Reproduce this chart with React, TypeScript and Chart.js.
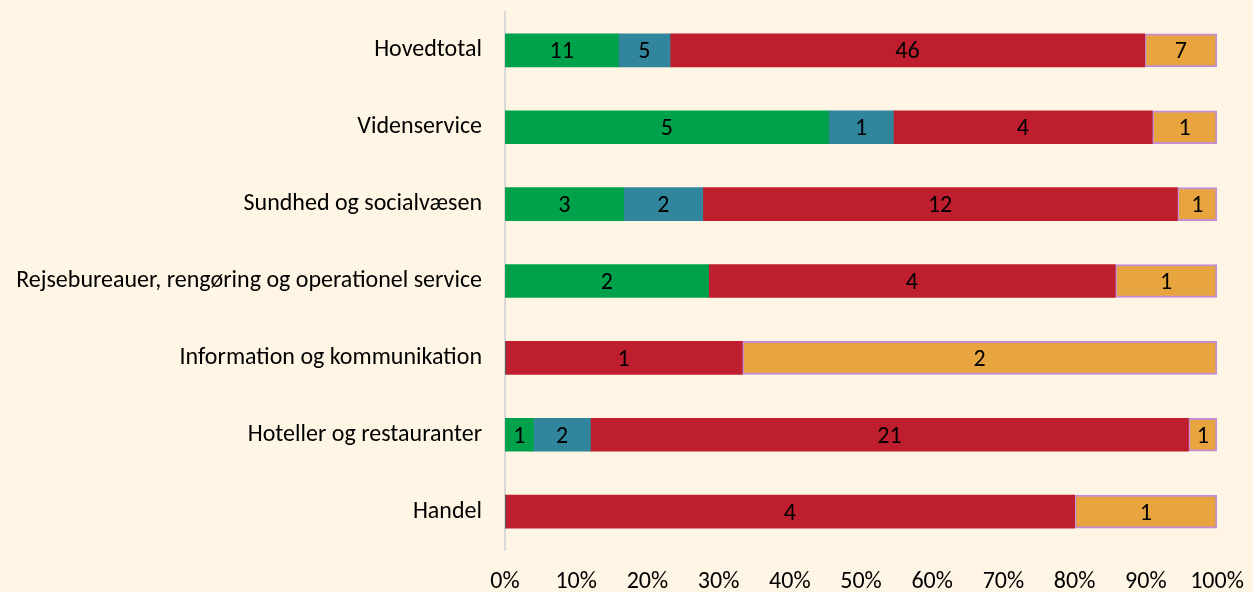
import React, { useEffect, useRef } from "react";
import { Chart, registerables } from "chart.js";

Chart.register(...registerables);

const categories = [
  "Hovedtotal",
  "Videnservice",
  "Sundhed og socialvæsen",
  "Rejsebureauer, rengøring og operationel service",
  "Information og kommunikation",
  "Hoteller og restauranter",
  "Handel",
];

const seriesNames = ["Serie 1", "Serie 2", "Serie 3", "Serie 4"];
const greenCounts = [11, 5, 3, 2, 0, 1, 0];
const blueCounts = [5, 1, 2, 0, 0, 2, 0];
const redCounts = [46, 4, 12, 4, 1, 21, 4];
const orangeCounts = [7, 1, 1, 1, 2, 1, 1];

const xTicks = [0, 10, 20, 30, 40, 50, 60, 70, 80, 90, 100];

const FONT = "Carlito, Calibri, Lato, 'Open Sans', sans-serif";

export default function App() {
  const ref = useRef<HTMLCanvasElement | null>(null);

  useEffect(() => {
    document.body.style.margin = "0";
    document.body.style.background = "#FEF5E4";
    const counts = [greenCounts, blueCounts, redCounts, orangeCounts];
    const totals = categories.map((_, i) => counts.reduce((s, c) => s + c[i], 0));
    const pct = (arr: number[]) => arr.map((v, i) => (v / totals[i]) * 100);
    const colors = ["#00A14B", "#31859C", "#BE1E2D", "#E8A53F"];

    const labelPlugin = {
      id: "segLabels",
      afterDatasetsDraw(chart: any) {
        const ctx = chart.ctx;
        ctx.save();
        ctx.font = `24px ${FONT}`;
        ctx.fillStyle = "#000000";
        ctx.textAlign = "center";
        ctx.textBaseline = "middle";
        chart.data.datasets.forEach((ds: any, di: number) => {
          const meta = chart.getDatasetMeta(di);
          meta.data.forEach((bar: any, i: number) => {
            const v = counts[di][i];
            if (!v) return;
            const cx = (bar.x + bar.base) / 2;
            ctx.fillText(String(v), cx, bar.y + 2);
          });
        });
        ctx.restore();
      },
    };

    const chart = new Chart(ref.current as HTMLCanvasElement, {
      type: "bar",
      data: {
        labels: categories,
        datasets: counts.map((c, k) => ({
          label: seriesNames[k],
          data: pct(c),
          backgroundColor: colors[k],
          borderColor: k === 3 ? "#C48DD2" : colors[k],
          borderWidth: k === 3 ? 2 : 0,
          borderSkipped: false,
          barThickness: 33,
        })),
      },
      options: {
        indexAxis: "y",
        animation: false,
        responsive: false,
        maintainAspectRatio: false,
        layout: { padding: { top: 12, right: 36, bottom: 0, left: 0 } },
        plugins: {
          legend: { display: false },
          tooltip: { enabled: false },
        },
        scales: {
          x: {
            stacked: true,
            min: 0,
            max: 100,
            afterBuildTicks(scale: any) {
              scale.ticks = xTicks.map((v) => ({ value: v }));
            },
            afterFit(scale: any) {
              scale.height = 42;
              scale.paddingLeft = 0;
              scale.paddingRight = 0;
            },
            grid: { display: false, drawTicks: false },
            border: { display: false },
            ticks: {
              padding: 18,
              color: "#000000",
              font: { size: 24, family: FONT },
              callback: (v: any) => `${v}%`,
              maxRotation: 0,
              autoSkip: false,
            },
          },
          y: {
            stacked: true,
            afterFit(scale: any) {
              scale.width = 505;
              scale.paddingTop = 0;
              scale.paddingBottom = 0;
            },
            grid: { drawOnChartArea: false, drawTicks: false, color: "rgba(0,0,0,0)" },
            border: { display: true, color: "#D9D9D9", width: 2 },
            ticks: {
              padding: 23,
              color: "#000000",
              font: { size: 24, family: FONT },
              autoSkip: false,
            },
          },
        },
      },
      plugins: [labelPlugin],
    } as any);
    return () => chart.destroy();
  }, []);

  return (
    <div style={{ width: 1253, height: 592, background: "#FEF5E4" }}>
      <canvas ref={ref} width={1253} height={592} style={{ display: "block" }} />
    </div>
  );
}
